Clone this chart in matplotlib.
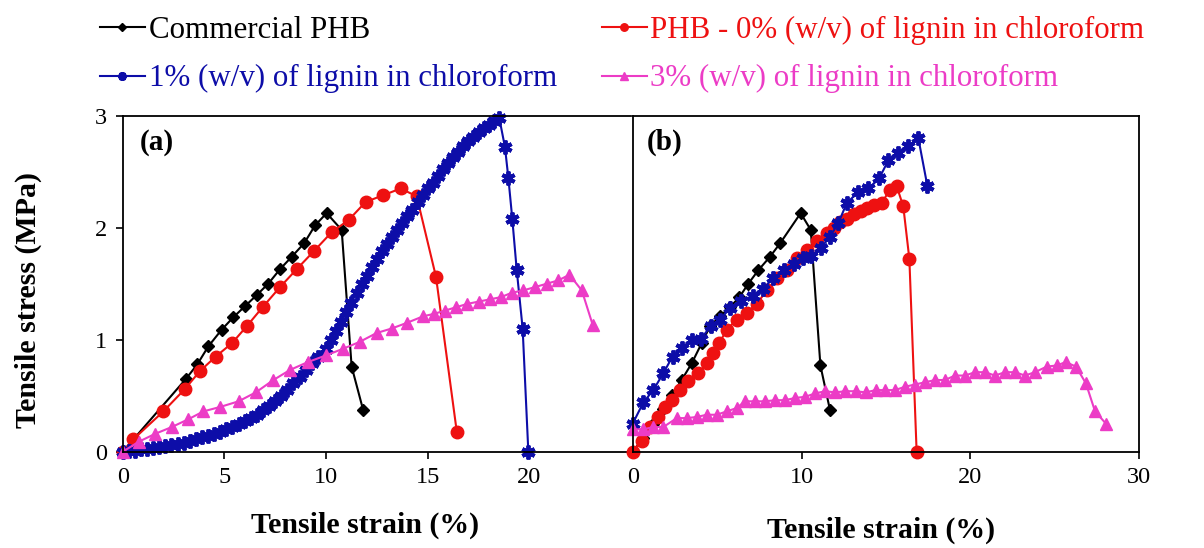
import numpy as np
import matplotlib
matplotlib.use("Agg")
import matplotlib.pyplot as plt

plt.rcParams['font.family'] = ['Liberation Serif', 'DejaVu Serif']

# ---- du lieu doc tu hinh (a) ----
com_a_x = [0, 3.11, 3.67, 4.21, 4.87, 5.44, 6.02, 6.60, 7.16, 7.74, 8.31, 8.92, 9.46, 10.03, 10.77, 11.26, 11.83]
com_a_y = [0, 0.65, 0.78, 0.94, 1.09, 1.20, 1.30, 1.40, 1.50, 1.63, 1.74, 1.86, 2.02, 2.13, 1.98, 0.76, 0.37]

phb0_a_x = [0, 0.52, 2.0, 3.06, 3.80, 4.58, 5.38, 6.10, 6.88, 7.74, 8.56, 9.40, 10.28, 11.12, 11.95, 12.82, 13.67, 14.46, 15.41, 16.43]
phb0_a_y = [0, 0.11, 0.36, 0.56, 0.72, 0.85, 0.97, 1.12, 1.29, 1.47, 1.63, 1.79, 1.96, 2.07, 2.23, 2.29, 2.35, 2.28, 1.56, 0.18]

l1_a_x = [0, 0.3, 0.6, 0.9, 1.2, 1.5, 1.8, 2.1, 2.4, 2.7, 3.0, 3.3, 3.6, 3.9, 4.2, 4.5, 4.8, 5.1, 5.4, 5.7,
          6.0, 6.3, 6.6, 6.9, 7.2, 7.5, 7.8, 8.1, 8.4, 8.7, 9.0, 9.3, 9.6, 10.0, 10.25, 10.5, 10.75, 11.0, 11.25,
          11.5, 11.75, 12.0, 12.25, 12.5, 12.75, 13.0, 13.25, 13.5, 13.75, 14.0, 14.25, 14.5, 14.75, 15.0,
          15.25, 15.5, 15.75, 16.0, 16.25, 16.5, 16.75, 17.0, 17.25, 17.5, 17.75, 18.0, 18.25, 18.52,
          18.80, 18.97, 19.16, 19.38, 19.67, 19.95]
l1_a_y = [0, 0.01, 0.01, 0.02, 0.02, 0.03, 0.04, 0.05, 0.06, 0.07, 0.08, 0.10, 0.11, 0.13, 0.14, 0.16, 0.18, 0.20, 0.22, 0.25,
          0.27, 0.30, 0.33, 0.37, 0.41, 0.45, 0.50, 0.55, 0.61, 0.67, 0.73, 0.79, 0.85, 0.92, 1.00, 1.08, 1.16, 1.25, 1.33,
          1.42, 1.50, 1.57, 1.65, 1.72, 1.79, 1.85, 1.92, 1.98, 2.04, 2.10, 2.16, 2.23, 2.29, 2.35,
          2.40, 2.46, 2.52, 2.58, 2.63, 2.68, 2.73, 2.77, 2.81, 2.85, 2.89, 2.92, 2.95, 2.98,
          2.72, 2.44, 2.08, 1.62, 1.10, 0]

l3_a_x = [0, 0.8, 1.6, 2.41, 3.23, 3.97, 4.8, 5.7, 6.55, 7.41, 8.23, 9.1, 10.0, 10.85, 11.65, 12.49, 13.23, 13.97, 14.79,
          15.3, 15.85, 16.4, 16.95, 17.5, 18.05, 18.6, 19.15, 19.70, 20.28, 20.86, 21.43, 21.97, 22.58, 23.12]
l3_a_y = [0, 0.09, 0.16, 0.22, 0.29, 0.36, 0.40, 0.45, 0.53, 0.64, 0.73, 0.80, 0.86, 0.92, 0.98, 1.06, 1.10, 1.15, 1.21,
          1.23, 1.26, 1.29, 1.32, 1.34, 1.36, 1.38, 1.42, 1.44, 1.47, 1.50, 1.53, 1.58, 1.44, 1.13]

# ---- du lieu doc tu hinh (b) ----
com_b_x = [0, 0.6, 1.2, 1.8, 2.35, 2.90, 3.50, 4.09, 4.58, 5.17, 5.76, 6.32, 6.85, 7.44, 8.13, 8.73, 9.95, 10.55, 11.12, 11.69]
com_b_y = [0, 0.12, 0.25, 0.38, 0.51, 0.64, 0.79, 0.97, 1.12, 1.21, 1.29, 1.38, 1.50, 1.62, 1.74, 1.86, 2.13, 1.98, 0.77, 0.37]

phb0_b_x = [0, 0.53, 1.02, 1.52, 1.91, 2.31, 2.80, 3.30, 3.89, 4.38, 4.78, 5.13, 5.57, 6.16, 6.75, 7.35, 7.94, 8.53,
            9.12, 9.72, 10.31, 10.90, 11.49, 11.9, 12.3, 12.7, 13.1, 13.5, 13.9, 14.3, 14.75, 15.24, 15.64, 16.03, 16.39, 16.82]
phb0_b_y = [0, 0.10, 0.22, 0.31, 0.40, 0.46, 0.55, 0.63, 0.70, 0.79, 0.88, 0.97, 1.09, 1.18, 1.24, 1.32, 1.44, 1.55,
            1.62, 1.73, 1.80, 1.88, 1.95, 2.00, 2.05, 2.08, 2.12, 2.15, 2.18, 2.20, 2.22, 2.34, 2.37, 2.19, 1.72, 0]

l1_b_x = [0, 0.63, 1.22, 1.81, 2.36, 2.90, 3.50, 4.04, 4.63, 5.17, 5.76, 6.41, 7.10, 7.69, 8.33, 8.97, 9.56, 10.11, 10.55,
          11.15, 11.69, 12.18, 12.68, 13.37, 13.96, 14.60, 15.14, 15.73, 16.33, 16.92, 17.46]
l1_b_y = [0.25, 0.44, 0.55, 0.70, 0.85, 0.93, 1.00, 1.01, 1.12, 1.18, 1.28, 1.35, 1.39, 1.45, 1.55, 1.62, 1.68, 1.73, 1.75,
          1.82, 1.92, 2.04, 2.22, 2.32, 2.35, 2.44, 2.60, 2.67, 2.73, 2.80, 2.37]

l3_b_x = [0, 0.63, 1.22, 1.81, 2.61, 3.20, 3.79, 4.38, 4.98, 5.57, 6.16, 6.65, 7.25, 7.84, 8.43, 9.02, 9.62, 10.21,
          10.80, 11.39, 12.0, 12.6, 13.2, 13.8, 14.4, 14.95, 15.54, 16.13, 16.72, 17.32, 17.91, 18.50, 19.09, 19.69,
          20.28, 20.87, 21.46, 22.06, 22.65, 23.24, 23.83, 24.53, 25.12, 25.65, 26.26, 26.85, 27.39, 28.04]
l3_b_y = [0.20, 0.20, 0.22, 0.22, 0.30, 0.30, 0.31, 0.33, 0.33, 0.36, 0.39, 0.45, 0.45, 0.45, 0.46, 0.46, 0.48, 0.49,
          0.52, 0.54, 0.53, 0.54, 0.54, 0.53, 0.55, 0.55, 0.55, 0.58, 0.60, 0.62, 0.64, 0.64, 0.68, 0.68,
          0.71, 0.71, 0.68, 0.71, 0.71, 0.68, 0.71, 0.76, 0.77, 0.80, 0.76, 0.61, 0.36, 0.25]

nhan = ["Commercial PHB", "PHB - 0% (w/v) of lignin in chloroform",
        "1% (w/v) of lignin in chloroform", "3% (w/v) of lignin in chloroform"]
mau_sac = ["black", "#EE1111", "#0D0DA8", "#EC3CC6"]

kieu = [dict(marker="D", ms=6.5, lw=1.5),
        dict(marker="o", ms=9, lw=1.5),
        dict(marker=(6, 2, 0), ms=10, lw=1.5, mew=2.8),
        dict(marker="^", ms=8.5, lw=1.5)]

fig = plt.figure(figsize=(12.04, 5.48), dpi=100)
ax1 = fig.add_axes([0.1019, 0.1757, 0.4222, 0.6132])
ax2 = fig.add_axes([0.5255, 0.1757, 0.4206, 0.6132])

du_lieu_a = [(com_a_x, com_a_y), (phb0_a_x, phb0_a_y), (l1_a_x, l1_a_y), (l3_a_x, l3_a_y)]
du_lieu_b = [(com_b_x, com_b_y), (phb0_b_x, phb0_b_y), (l1_b_x, l1_b_y), (l3_b_x, l3_b_y)]

duong = []
for i in range(4):
    h, = ax1.plot(du_lieu_a[i][0], du_lieu_a[i][1], color=mau_sac[i], label=nhan[i], clip_on=False, **kieu[i])
    duong.append(h)
    ax2.plot(du_lieu_b[i][0], du_lieu_b[i][1], color=mau_sac[i], clip_on=False, **kieu[i])

ax1.set_xlim(0, 25)
ax1.set_ylim(0, 3)
ax1.set_xticks([0, 5, 10, 15, 20])
ax1.set_yticks([0, 1, 2, 3])
ax1.spines["right"].set_visible(False)
ax2.set_xlim(0, 30)
ax2.set_ylim(0, 3)
ax2.set_xticks([0, 10, 20, 30])
ax2.set_yticks([])

for ax in (ax1, ax2):
    ax.tick_params(direction="out", length=5, width=1.2, labelsize=17.5, pad=6)
    for s in ax.spines.values():
        s.set_linewidth(1.3)

ax1.text(0.034, 0.92, "(a)", transform=ax1.transAxes, fontsize=21, fontweight="bold", va="center")
ax2.text(0.028, 0.92, "(b)", transform=ax2.transAxes, fontsize=21, fontweight="bold", va="center")

fig.text(28 / 1204, 1 - 300 / 548, "Tensile stress (MPa)", rotation=90, fontsize=21.5,
         fontweight="bold", ha="center", va="center")
fig.text(365 / 1204, 1 - 525 / 548, "Tensile strain (%)", fontsize=21.5, fontweight="bold",
         ha="center", va="center")
fig.text(881 / 1204, 1 - 530 / 548, "Tensile strain (%)", fontsize=21.5, fontweight="bold",
         ha="center", va="center")

# legend xep theo hang: hang 1 = Commercial, PHB-0%; hang 2 = 1%, 3%
thu_tu = [0, 2, 1, 3]
fig.legend([duong[k] for k in thu_tu], [nhan[k] for k in thu_tu],
           loc="upper left", bbox_to_anchor=(100 / 1204, 1 - 16 / 548), ncol=2, frameon=False,
           fontsize=22.3, labelcolor="linecolor", handlelength=1.45, handletextpad=0.12,
           columnspacing=1.45, labelspacing=0.62, markerscale=0.6, borderpad=0, borderaxespad=0)

plt.savefig("out.png", dpi=100)
